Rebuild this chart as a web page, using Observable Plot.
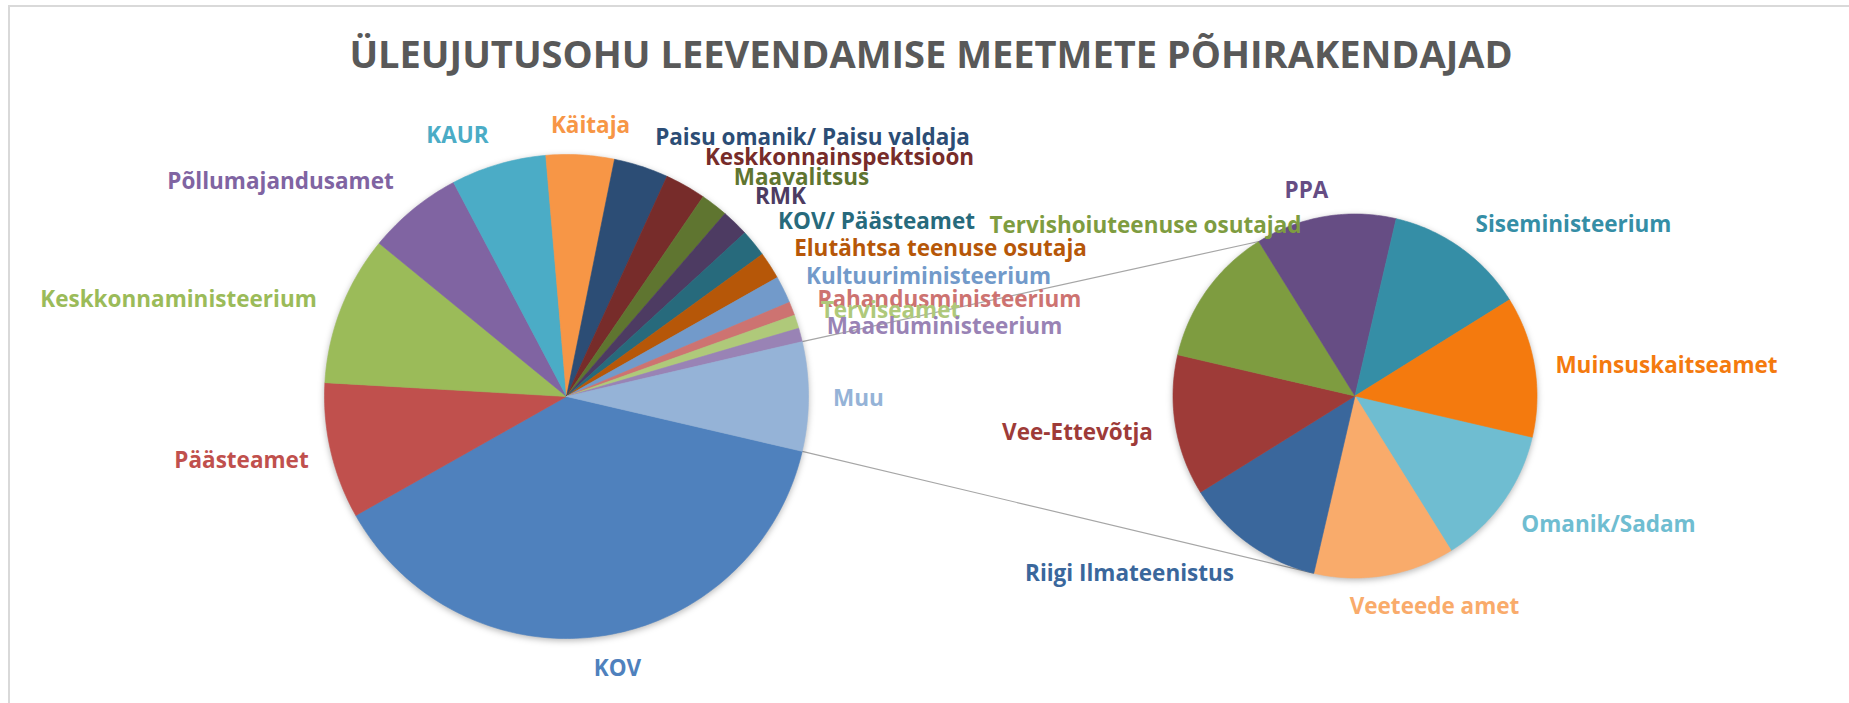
<!DOCTYPE html>
<html>
<head>
<meta charset="utf-8">
<script src="https://cdn.jsdelivr.net/npm/d3@7"></script>
<script src="https://cdn.jsdelivr.net/npm/@observablehq/plot@0.6"></script>
<style>
  body { margin: 0; background: #ffffff; }
  #wrap { position: relative; width: 1849px; height: 703px; overflow: hidden; font-family: "Open Sans", sans-serif; background: #fff; }
  #frame { position: absolute; left: 8px; top: 5px; right: -4px; bottom: -4px; border-top: 2px solid #d9d9d9; border-left: 2px solid #d9d9d9; pointer-events: none; }
  #title { position: absolute; left: 0; width: 1862px; top: 34px; text-align: center; font-family: "Open Sans", sans-serif; font-weight: 700; font-size: 38px; line-height: 38px; color: #595959; white-space: nowrap; }
  #chart { position: absolute; left: 0; top: 0; }
</style>
</head>
<body>
<div id="wrap">
  <div id="frame"></div>
  <div id="chart"></div>
  <div id="title"></div>
</div>
<script>
// ---------- DATA ----------
const chartTitle = "ÜLEUJUTUSOHU LEEVENDAMISE MEETMETE PÕHIRAKENDAJAD";

const mainNames = [
  "KOV", "Päästeamet", "Keskkonnaministeerium", "Põllumajandusamet", "KAUR",
  "Käitaja", "Paisu omanik/ Paisu valdaja", "Keskkonnainspektsioon", "Maavalitsus",
  "RMK", "KOV/ Päästeamet", "Elutähtsa teenuse osutaja", "Kultuuriministeerium",
  "Rahandusministeerium", "Terviseamet", "Maaeluministeerium"
];
const mainValues = [42, 10, 11, 7, 7, 5, 4, 3, 2, 2, 2, 2, 2, 1, 1, 1];

const otherName = "Muu";

const secondNames = [
  "Omanik/Sadam", "Veeteede amet", "Riigi Ilmateenistus", "Vee-Ettevõtja",
  "Tervishoiuteenuse osutajad", "PPA", "Siseministeerium", "Muinsuskaitseamet"
];
const secondValues = [1, 1, 1, 1, 1, 1, 1, 1];

// ---------- STYLE / LAYOUT ----------
const mainColors = [
  "#4F81BD", "#C0504D", "#9BBB59", "#8064A2", "#4BACC6", "#F79646",
  "#2C4D75", "#772C2A", "#5F7530", "#4D3B62", "#276A7C", "#B65708",
  "#729ACA", "#CD7371", "#AFC97A", "#9983B5"
];
const otherColor = "#95B3D7";
const secondColors = ["#6FBDD1", "#F9AB6B", "#3A679C", "#9E3B38", "#7E9C40", "#664D84", "#358EA6", "#F47A0E"];

const W = 1849, H = 703;
const mainPie = {cx: 566, cy: 396, r: 242};
const secondPie = {cx: 1354.5, cy: 395.5, r: 182};
// connector targets: boundary index on the secondary pie
const connectTop = 5, connectBottom = 2;

// label anchor positions (centre x, baseline y)
const labelLayout = {
  "KOV": [617, 675],
  "Päästeamet": [241, 467],
  "Keskkonnaministeerium": [178, 306],
  "Põllumajandusamet": [280, 188],
  "KAUR": [457, 142],
  "Käitaja": [590, 132],
  "Paisu omanik/ Paisu valdaja": [812, 144],
  "Keskkonnainspektsioon": [839, 164],
  "Maavalitsus": [801, 184],
  "RMK": [780, 203],
  "KOV/ Päästeamet": [876, 228],
  "Elutähtsa teenuse osutaja": [940, 255],
  "Kultuuriministeerium": [928, 283],
  "Rahandusministeerium": [949, 306],
  "Terviseamet": [890, 317],
  "Maaeluministeerium": [944, 333],
  "Muu": [858, 405],
  "Tervishoiuteenuse osutajad": [1145, 232],
  "PPA": [1306, 197],
  "Siseministeerium": [1573, 231],
  "Muinsuskaitseamet": [1666, 372],
  "Omanik/Sadam": [1608, 531],
  "Veeteede amet": [1434, 613],
  "Riigi Ilmateenistus": [1129, 580],
  "Vee-Ettevõtja": [1077, 439]
};

// ---------- GEOMETRY ----------
const otherValue = d3.sum(secondValues);
const mainAllNames = [...mainNames, otherName];
const mainAllValues = [...mainValues, otherValue];
const mainTotal = d3.sum(mainAllValues);
const otherHalf = otherValue / mainTotal * 180;
const startAngle = 90 + otherHalf;   // "Muu" centred at 3 o'clock

function polar(p, deg) {
  const a = deg * Math.PI / 180;
  return [p.cx + p.r * Math.sin(a), p.cy - p.r * Math.cos(a)];
}

function slicePoints(names, values, pie, start) {
  const total = d3.sum(values);
  const pts = [];
  let a0 = start;
  names.forEach((name, i) => {
    const span = values[i] / total * 360;
    const steps = Math.max(2, Math.ceil(span));
    pts.push({name, x: pie.cx, y: pie.cy});
    for (let k = 0; k <= steps; k++) {
      const [x, y] = polar(pie, a0 + span * k / steps);
      pts.push({name, x, y});
    }
    pts.push({name, x: pie.cx, y: pie.cy});
    a0 += span;
  });
  return pts;
}

const mainPts = slicePoints(mainAllNames, mainAllValues, mainPie, startAngle);
const secondPts = slicePoints(secondNames, secondValues, secondPie, startAngle);

const secondTotal = d3.sum(secondValues);
const cumSecond = d3.cumsum(secondValues);
const [m1x, m1y] = polar(mainPie, 90 - otherHalf);
const [m2x, m2y] = polar(mainPie, 90 + otherHalf);
const [s1x, s1y] = polar(secondPie, startAngle + cumSecond[connectTop - 1] / secondTotal * 360);
const [s2x, s2y] = polar(secondPie, startAngle + cumSecond[connectBottom - 1] / secondTotal * 360);
const connectors = [
  {x1: m1x, y1: m1y, x2: s1x, y2: s1y},
  {x1: m2x, y1: m2y, x2: s2x, y2: s2y}
];

const allNames = [...mainAllNames, ...secondNames];
const allColors = [...mainColors, otherColor, ...secondColors];
const labels = allNames.map(name => ({name, x: labelLayout[name][0], y: labelLayout[name][1]}));

// ---------- PLOT ----------
const svg = Plot.plot({
  width: W,
  height: H,
  margin: 0,
  x: {domain: [0, W], range: [0, W], axis: null},
  y: {domain: [0, H], range: [0, H], axis: null},
  color: {domain: allNames, range: allColors},
  style: {background: "transparent", fontFamily: "Open Sans, sans-serif", overflow: "visible"},
  marks: [
    Plot.link(connectors, {x1: "x1", y1: "y1", x2: "x2", y2: "y2", stroke: "#A6A6A6", strokeWidth: 1.2}),
    Plot.line(mainPts, {x: "x", y: "y", z: "name", fill: "name", stroke: "name", strokeWidth: 0.6, curve: "linear"}),
    Plot.line(secondPts, {x: "x", y: "y", z: "name", fill: "name", stroke: "name", strokeWidth: 0.6, curve: "linear"}),
    Plot.text(labels, {
      x: "x", y: "y", text: "name", fill: "name",
      textAnchor: "middle", lineAnchor: "bottom",
      fontSize: 22.5, fontWeight: 700, fontFamily: "Open Sans"
    })
  ]
});

svg.querySelectorAll('g[aria-label="line"]').forEach(g => {
  g.style.filter = "drop-shadow(0px 2px 3px rgba(0,0,0,0.28))";
});

document.getElementById("chart").appendChild(svg);
document.getElementById("title").textContent = chartTitle;
</script>
</body>
</html>
